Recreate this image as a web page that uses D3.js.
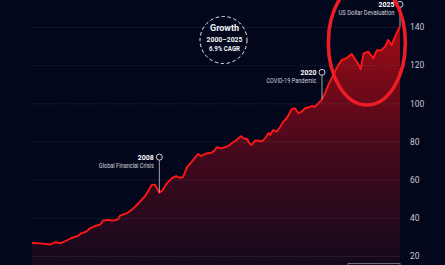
<!DOCTYPE html>
<html lang="en">
<head>
  <meta charset="UTF-8">
  <title>Growth 2000-2025</title>
  <style>
    body { margin: 0; background: #03071b; }
    svg { display: block; }
    text { font-family: 'Liberation Sans Narrow', 'Roboto', sans-serif; }
  </style>
</head>
<body>
  <svg id="svg" width="445" height="265"></svg>

  <script src="https://d3js.org/d3.v7.min.js"></script>
  <script>
    // ---- data (decimal year, index value) ----
    const years = [
      2000.00, 2000.56, 2001.26, 2001.61, 2002.03, 2002.38, 2002.73, 2003.22, 2003.43, 2003.78,
      2004.06, 2004.41, 2004.76, 2004.97, 2005.32, 2005.67, 2006.02, 2006.16, 2006.65, 2007.00,
      2007.42, 2007.91, 2008.38, 2008.61, 2008.91, 2009.15, 2009.43, 2009.77, 2010.08, 2010.36,
      2010.57, 2010.85, 2011.27, 2011.62, 2011.83, 2012.22, 2012.57, 2012.80, 2012.92, 2013.27,
      2013.74, 2013.97, 2014.32, 2014.62, 2014.83, 2015.04, 2015.25, 2015.39, 2015.62, 2015.83,
      2016.09, 2016.32, 2016.56, 2016.65, 2016.88, 2017.12, 2017.35, 2017.58, 2017.82, 2018.17,
      2018.40, 2018.63, 2018.87, 2019.10, 2019.33, 2019.57, 2019.80, 2020.03, 2020.27, 2020.50,
      2020.76, 2021.08, 2021.43, 2021.67, 2022.02, 2022.37, 2022.60, 2022.83, 2023.00, 2023.20,
      2023.53, 2023.88, 2024.12, 2024.47, 2024.70, 2024.93, 2025.17, 2025.40, 2025.75
    ]
    const values = [
      26.8, 26.6, 26.0, 27.2, 26.7, 28.0, 29.3, 30.5, 31.9, 32.7,
      34.5, 35.7, 36.4, 38.6, 38.9, 38.5, 39.2, 41.1, 42.5, 44.3,
      47.4, 51.3, 57.2, 57.4, 53.2, 54.6, 58.1, 60.7, 61.8, 60.9,
      61.4, 66.6, 70.3, 73.5, 72.4, 73.8, 74.1, 75.6, 77.0, 76.4,
      77.7, 79.1, 80.8, 82.8, 81.6, 81.3, 78.7, 78.3, 80.6, 80.4,
      80.1, 81.8, 84.5, 83.4, 86.0, 85.1, 87.5, 90.4, 92.2, 96.9,
      97.4, 94.8, 95.6, 97.4, 97.8, 98.6, 98.2, 100.0, 101.8, 105.3,
      110.1, 114.9, 120.1, 122.7, 123.8, 125.9, 123.2, 120.6, 117.9, 126.2,
      127.1, 123.6, 127.7, 128.0, 129.7, 133.2, 130.6, 134.9, 140.3
    ]
    const yTicks = [20, 40, 60, 80, 100, 120, 140]

    // annotations
    const eventYears = [2008.91, 2020.29, 2025.75]
    const eventTitles = ['2008', '2020', '2025']
    const eventLabels = ['Global Financial Crisis', 'COVID-19 Pandemic', 'US Dollar Devaluation']
    const growthLines = ['Growth', '2000\u20132025', '6.9% CAGR']

    const data = years.map((yr, i) => ({ year: yr, value: values[i] }))

    // ---- layout ----
    const svg = d3.select('#svg')
    const plotLeft = 32, plotRight = 400, plotTop = 27, plotBottom = 256

    const x = d3.scaleLinear().domain([2000, 2025.75]).range([plotLeft, plotRight])
    const y = d3.scaleLinear().domain([20, 140]).range([plotBottom, plotTop])

    // gradient for the area
    const defs = svg.append('defs')
    const grad = defs.append('linearGradient')
      .attr('id', 'areaFill')
      .attr('gradientUnits', 'userSpaceOnUse')
      .attr('x1', 0).attr('x2', 0).attr('y1', 25).attr('y2', 265)
    grad.append('stop').attr('offset', '0%').attr('stop-color', '#a00c14')
    grad.append('stop').attr('offset', '32%').attr('stop-color', '#68091a')
    grad.append('stop').attr('offset', '55%').attr('stop-color', '#42091c')
    grad.append('stop').attr('offset', '100%').attr('stop-color', '#14091c')

    // area
    const area = d3.area()
      .x(d => x(d.year))
      .y0(265)
      .y1(d => y(d.value))
    svg.append('path')
      .datum(data)
      .attr('d', area)
      .attr('fill', 'url(#areaFill)')

    // gridlines
    const grid = svg.append('g')
      .attr('transform', `translate(${plotLeft}, 0)`)
      .call(d3.axisLeft(y).tickValues(yTicks).tickSize(-(plotRight - plotLeft)).tickFormat(''))
    grid.select('.domain').remove()
    grid.selectAll('line')
      .attr('stroke', '#8a90b0')
      .attr('stroke-opacity', 0.28)
      .attr('stroke-width', 0.7)
      .attr('stroke-dasharray', '1.5,1')

    // right axis labels
    const yAxis = svg.append('g')
      .attr('transform', `translate(${plotRight}, 0)`)
      .call(d3.axisRight(y).tickValues(yTicks).tickSize(0).tickPadding(10))
    yAxis.select('.domain').remove()
    yAxis.selectAll('text')
      .attr('fill', '#c4c8d6')
      .style('font-family', 'Roboto, sans-serif')
      .style('font-size', '8.5px')

    // line
    const line = d3.line()
      .x(d => x(d.year))
      .y(d => y(d.value))
    svg.append('path')
      .datum(data)
      .attr('d', line)
      .attr('fill', 'none')
      .attr('stroke', '#ff1717')
      .attr('stroke-width', 1.9)
      .attr('stroke-linejoin', 'round')

    // value on the line at a given year (linear between points)
    const valueAt = d3.scaleLinear().domain(years).range(values).clamp(true)

    // event markers (circle height above the line in px, text widths)
    const markerLift = [35.5, 27, 22]
    const titleWidth = [16, 16, 16]
    const labelWidth = [55, 50, 56]
    eventYears.forEach((yr, i) => {
      const px = x(yr)
      const lineY = y(valueAt(yr))
      const cy = lineY - markerLift[i]
      svg.append('line')
        .attr('x1', px).attr('x2', px)
        .attr('y1', cy + 3).attr('y2', lineY)
        .attr('stroke', '#c9ccd6')
        .attr('stroke-width', 0.8)
      svg.append('circle')
        .attr('cx', px).attr('cy', cy).attr('r', 3)
        .attr('fill', '#03071b')
        .attr('stroke', '#e6e8ee')
        .attr('stroke-width', 0.9)
      svg.append('text')
        .attr('x', px - 5.5).attr('y', cy + 2.8)
        .attr('text-anchor', 'end')
        .attr('fill', '#ffffff')
        .attr('font-weight', 'bold')
        .attr('font-size', 8)
        .attr('textLength', titleWidth[i])
        .attr('lengthAdjust', 'spacingAndGlyphs')
        .text(eventTitles[i])
      svg.append('text')
        .attr('x', px - 5.5).attr('y', cy + 11)
        .attr('text-anchor', 'end')
        .attr('fill', '#d2d4dc')
        .attr('font-size', 7)
        .attr('textLength', labelWidth[i])
        .attr('lengthAdjust', 'spacingAndGlyphs')
        .text(eventLabels[i])
    })

    // growth badge
    const badge = svg.append('g').attr('transform', 'translate(223.5, 40)')
    badge.append('circle')
      .attr('r', 23.5)
      .attr('fill', 'none')
      .attr('stroke', '#e8eaf0')
      .attr('stroke-width', 1)
      .attr('stroke-dasharray', '3.5,2.5')
    const badgeY = [-9, 1.5, 10.5]
    const badgeW = [29, 36, 31]
    const badgeSize = [8.5, 7.5, 7]
    growthLines.forEach((t, i) => {
      badge.append('text')
        .attr('x', 1).attr('y', badgeY[i])
        .attr('text-anchor', 'middle')
        .attr('fill', '#f2f3f7')
        .attr('font-weight', 'bold')
        .attr('font-size', badgeSize[i])
        .attr('textLength', badgeW[i])
        .attr('lengthAdjust', 'spacingAndGlyphs')
        .text(t)
    })

    // highlight ellipse around recent years
    svg.append('ellipse')
      .attr('cx', x(2023.43)).attr('cy', 43)
      .attr('rx', 38.5).attr('ry', 62)
      .attr('fill', 'none')
      .attr('stroke', '#ee1c25')
      .attr('stroke-width', 3.6)

    // cut-off source box at the bottom
    svg.append('rect')
      .attr('x', 348).attr('y', 263.5)
      .attr('width', 52).attr('height', 10)
      .attr('fill', 'none')
      .attr('stroke', '#7e8396')
      .attr('stroke-width', 0.8)
  </script>
</body>
</html>
